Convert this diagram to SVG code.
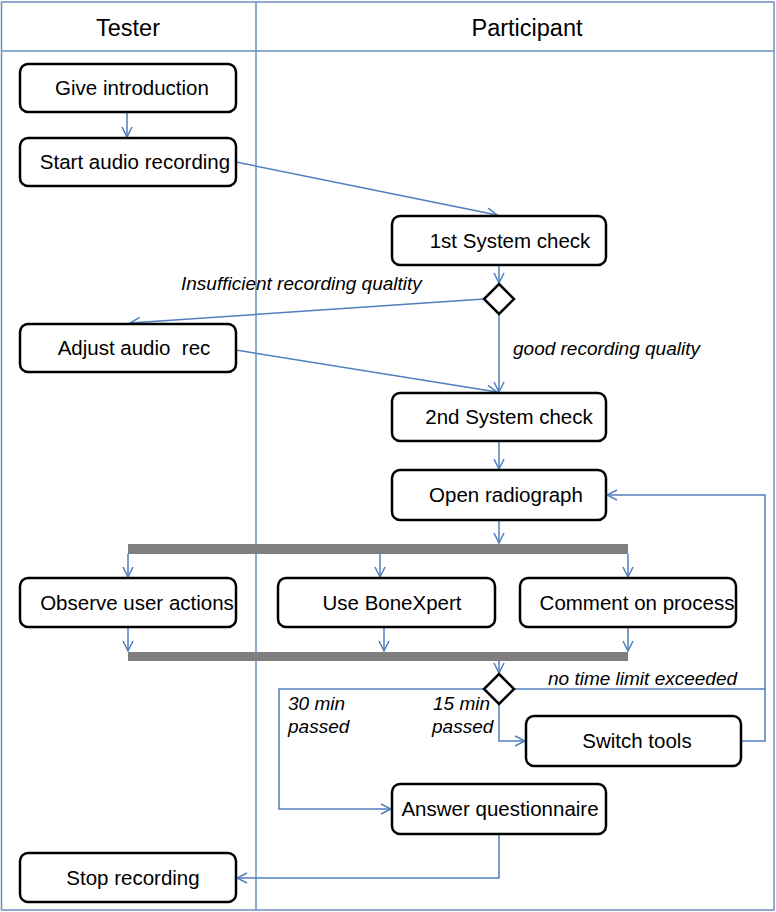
<svg xmlns="http://www.w3.org/2000/svg" width="776" height="912" viewBox="0 0 776 912">
<defs>
<marker id="arr" viewBox="0 0 12 12" refX="11" refY="6" markerWidth="12" markerHeight="12" markerUnits="userSpaceOnUse" orient="auto">
<path d="M1,1 L11,6 L1,11" fill="none" stroke="#4f7fbd" stroke-width="1.5"/>
</marker>
<style>
.lane{fill:none;stroke:#6a8fc0;stroke-width:1.5}
.node{fill:#fff;stroke:#000;stroke-width:2.5}
.t{font-family:"Liberation Sans",Arial,sans-serif;font-size:20.5px;fill:#000;text-anchor:middle}
.h{font-family:"Liberation Sans",Arial,sans-serif;font-size:23.5px;fill:#000;text-anchor:middle}
.l{font-family:"Liberation Sans",Arial,sans-serif;font-size:19px;font-style:italic;fill:#000}
.c{fill:none;stroke:#4f7fbd;stroke-width:1.5;marker-end:url(#arr)}
.cn{fill:none;stroke:#4f7fbd;stroke-width:1.5}
.bar{fill:#7f7f7f}
</style>
</defs>
<g id="lanes">
<rect class="lane" x="1.5" y="2" width="772.5" height="908"/>
<line class="lane" x1="1.5" y1="51" x2="774" y2="51"/>
<line class="lane" x1="256" y1="2" x2="256" y2="910"/>
<text class="h" x="128" y="36">Tester</text>
<text class="h" x="527" y="36">Participant</text>
</g>
<g id="connectors">
<path class="c" d="M127,112 L127,137"/>
<path class="c" d="M236,162 L497,215"/>
<path class="c" d="M499,265 L499,283"/>
<path class="c" d="M484,299 L130,323"/>
<path class="c" d="M499,314 L499,392"/>
<path class="c" d="M236,350 L497,392"/>
<path class="c" d="M499,441 L499,469"/>
<path class="c" d="M499,520 L499,543"/>
<path class="c" d="M128,554 L128,577"/>
<path class="c" d="M380,554 L380,577"/>
<path class="c" d="M628,554 L628,577"/>
<path class="c" d="M128,627 L128,651"/>
<path class="c" d="M384,627 L384,651"/>
<path class="c" d="M628,627 L628,651"/>
<path class="c" d="M499,661 L499,673"/>
<path class="c" d="M514,689 L765,689 L765,495 L607,495"/>
<path class="cn" d="M741,741 L765,741 L765,689"/>
<path class="c" d="M499,704 L499,741 L525,741"/>
<path class="c" d="M484,689 L279,689 L279,809 L391,809"/>
<path class="c" d="M499,834 L499,878 L237,878"/>
</g>
<g id="labels">
<text class="l" x="181" y="290">Insufficient recording qualtity</text>
<text class="l" x="513" y="355">good recording quality</text>
<text class="l" x="548" y="685">no time limit exceeded</text>
<text class="l" x="288" y="710">30 min</text>
<text class="l" x="288" y="733">passed</text>
<text class="l" x="433" y="710">15 min</text>
<text class="l" x="432" y="733">passed</text>
</g>
<g id="n-intro"><rect class="node" x="20" y="64" width="216" height="48" rx="8"/><text class="t" x="132" y="95">Give introduction</text></g>
<g id="n-start"><rect class="node" x="20" y="138" width="216" height="48" rx="8"/><text class="t" x="135" y="169">Start audio recording</text></g>
<g id="n-check1"><rect class="node" x="392" y="216" width="214" height="49" rx="8"/><text class="t" x="510" y="248">1st System check</text></g>
<g id="d-1"><path class="node" d="M499,284 L514,299 L499,314 L484,299 Z"/></g>
<g id="n-adjust"><rect class="node" x="20" y="324" width="216" height="48" rx="8"/><text class="t" x="134" y="355" xml:space="preserve">Adjust audio  rec</text></g>
<g id="n-check2"><rect class="node" x="392" y="393" width="214" height="48" rx="8"/><text class="t" x="509" y="424">2nd System check</text></g>
<g id="n-open"><rect class="node" x="392" y="470" width="214" height="50" rx="8"/><text class="t" x="506" y="502">Open radiograph</text></g>
<g id="fork"><rect class="bar" x="128" y="544" width="500" height="10"/></g>
<g id="n-observe"><rect class="node" x="20" y="578" width="216" height="49" rx="8"/><text class="t" x="137" y="610">Observe user actions</text></g>
<g id="n-bonex"><rect class="node" x="278" y="578" width="217" height="49" rx="8"/><text class="t" x="392" y="610">Use BoneXpert</text></g>
<g id="n-comment"><rect class="node" x="520" y="578" width="216" height="49" rx="8"/><text class="t" x="637" y="610">Comment on process</text></g>
<g id="join"><rect class="bar" x="128" y="652" width="500" height="9"/></g>
<g id="d-2"><path class="node" d="M499,674 L514,689 L499,704 L484,689 Z"/></g>
<g id="n-switch"><rect class="node" x="526" y="716" width="215" height="50" rx="8"/><text class="t" x="637" y="748">Switch tools</text></g>
<g id="n-answer"><rect class="node" x="392" y="784" width="214" height="50" rx="8"/><text class="t" x="500" y="816">Answer questionnaire</text></g>
<g id="n-stop"><rect class="node" x="20" y="853" width="216" height="49" rx="8"/><text class="t" x="133" y="885">Stop recording</text></g>
</svg>
